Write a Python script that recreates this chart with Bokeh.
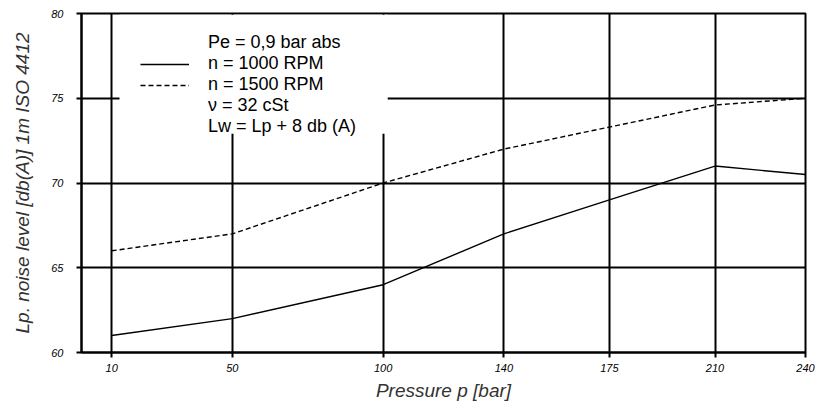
from bokeh.plotting import figure
from bokeh.models import Range1d, FixedTicker, Legend, LegendItem, BoxAnnotation
from bokeh.embed import file_html
from bokeh.resources import INLINE

# ---- data ----
pressure = [10, 50, 100, 140, 175, 210, 240]
noise_1000 = [61.0, 62.0, 64.0, 67.0, 69.0, 71.0, 70.5]
noise_1500 = [66.0, 67.0, 70.0, 72.0, 73.3, 74.6, 75.0]
x_ticks = [10, 50, 100, 140, 175, 210, 240]
y_ticks = [60, 65, 70, 75, 80]
legend_rows = ["Pe = 0,9 bar abs", "n = 1000 RPM", "n = 1500 RPM",
               "\u03bd = 32 cSt", "Lw = Lp + 8 db (A)"]

FONT = "Liberation Sans"

p = figure(width=830, height=406, x_range=Range1d(0, 240), y_range=Range1d(60, 80),
           output_backend="svg", toolbar_location=None,
           min_border_left=81, min_border_right=25, min_border_top=13, min_border_bottom=54,
           background_fill_color="white", border_fill_color="white")

p.outline_line_color = "black"
p.outline_line_width = 2

for ax in (p.xaxis, p.yaxis):
    ax.axis_line_color = "black"
    ax.axis_line_width = 2
    ax.major_tick_line_color = "black"
    ax.major_tick_line_width = 2
    ax.major_tick_in = 0
    ax.major_tick_out = 5
    ax.minor_tick_line_color = None
    ax.major_label_text_font = FONT
    ax.major_label_text_font_style = "italic"
    ax.major_label_text_font_size = "11px"
    ax.major_label_text_color = "black"
    ax.axis_label_text_font = FONT
    ax.axis_label_text_font_style = "italic"
    ax.axis_label_text_font_size = "19px"
    ax.axis_label_text_color = "#333333"

p.xaxis.ticker = FixedTicker(ticks=x_ticks)
p.yaxis.ticker = FixedTicker(ticks=y_ticks)
p.xaxis.major_label_standoff = 6
p.yaxis.major_label_standoff = 13
p.xaxis.axis_label = "Pressure p [bar]"
p.yaxis.axis_label = "Lp. noise level [db(A)] 1m ISO 4412"
p.xaxis.axis_label_standoff = 5
p.yaxis.axis_label_standoff = 15

for g in (p.xgrid, p.ygrid):
    g.grid_line_color = "black"
    g.grid_line_width = 2

r_solid = p.line(pressure, noise_1000, line_color="black", line_width=1.4)
r_dash = p.line(pressure, noise_1500, line_color="black", line_width=1.4, line_dash="5 3")
r_blank = p.line(x=[], y=[], line_alpha=0)

# white panel behind the legend (covers grid lines there)
p.add_layout(BoxAnnotation(left=12.6, right=101.5, top=79.93, bottom=72.9,
                           fill_color="white", fill_alpha=1, line_alpha=0, level="annotation"))

items = [
    LegendItem(label=legend_rows[0], renderers=[r_blank]),
    LegendItem(label=legend_rows[1], renderers=[r_solid]),
    LegendItem(label=legend_rows[2], renderers=[r_dash]),
    LegendItem(label=legend_rows[3], renderers=[r_blank]),
    LegendItem(label=legend_rows[4], renderers=[r_blank]),
]
legend = Legend(items=items, location=(59, 215), orientation="vertical",
                padding=0, margin=0, spacing=0, glyph_width=49, glyph_height=20,
                label_height=20, label_standoff=19, label_text_font=FONT,
                label_text_font_size="18px", label_text_color="black",
                label_text_line_height=1.0,
                border_line_alpha=0, background_fill_alpha=0)
p.add_layout(legend, "center")

open("out.html", "w").write(file_html(p, INLINE))
